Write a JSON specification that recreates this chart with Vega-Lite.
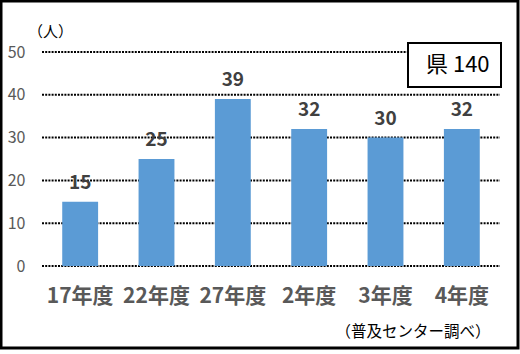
{
  "$schema": "https://vega.github.io/schema/vega-lite/v6.json",
  "width": 517,
  "height": 347,
  "autosize": {"type": "none"},
  "padding": {"left": 1, "top": 1, "right": 2, "bottom": 6},
  "background": "white",
  "config": {
    "view": {"stroke": "black", "strokeWidth": 3},
    "font": "Noto Sans CJK JP"
  },
  "datasets": {
    "bars": [
      {"year": "17年度", "value": 15, "pref": "県 140"},
      {"year": "22年度", "value": 25, "pref": "県 140"},
      {"year": "27年度", "value": 39, "pref": "県 140"},
      {"year": "2年度", "value": 32, "pref": "県 140"},
      {"year": "3年度", "value": 30, "pref": "県 140"},
      {"year": "4年度", "value": 32, "pref": "県 140"}
    ],
    "grid": [
      {"g": 0, "a": 0, "b": 1}, {"g": 10, "a": 0, "b": 1}, {"g": 20, "a": 0, "b": 1},
      {"g": 30, "a": 0, "b": 1}, {"g": 40, "a": 0, "b": 1}, {"g": 50, "a": 0, "b": 1}
    ]
  },
  "layer": [
    {
      "data": {"name": "grid"},
      "mark": {"type": "rule", "color": "black", "strokeWidth": 2, "strokeDash": [2, 1.2]},
      "encoding": {
        "y": {
          "field": "g", "type": "quantitative",
          "scale": {"domain": [0, 50], "range": [265, 51], "nice": false},
          "axis": {
            "title": "（人）", "titleAngle": 0, "titleX": 25, "titleY": 30,
            "titleAlign": "center", "titleBaseline": "middle", "titleFontSize": 15, "titleFontWeight": "normal", "titleColor": "black",
            "values": [0, 10, 20, 30, 40, 50],
            "labelFontSize": 16, "labelColor": "#595959", "labelPadding": 0,
            "ticks": false, "domain": false, "grid": false,
            "offset": -24
          }
        },
        "x": {"field": "a", "type": "quantitative", "scale": {"domain": [0, 1], "range": [41, 499]}, "axis": null},
        "x2": {"field": "b"}
      }
    },
    {
      "data": {"name": "bars"},
      "encoding": {
        "x": {
          "field": "year", "type": "nominal", "sort": null,
          "scale": {"range": [41, 499], "paddingInner": 0.53, "paddingOuter": 0.265},
          "axis": {
            "title": "（普及センター調べ）",
            "titleFontSize": 15.5, "titleFontWeight": "normal", "titleColor": "black",
            "titleX": 489, "titleY": 35, "titleAlign": "right", "titleBaseline": "middle",
            "labelFontSize": 21, "labelFontWeight": "bold", "labelColor": "#595959",
            "labelAngle": 0, "labelBaseline": "middle", "labelPadding": 0,
            "ticks": false, "domain": false, "grid": false,
            "offset": -51.5
          }
        },
        "y": {
          "field": "value", "type": "quantitative",
          "scale": {"domain": [0, 50], "range": [265, 51], "nice": false},
          "axis": {
            "title": "（人）", "titleAngle": 0, "titleX": 25, "titleY": 30,
            "titleAlign": "center", "titleBaseline": "middle", "titleFontSize": 15, "titleFontWeight": "normal", "titleColor": "black",
            "values": [0, 10, 20, 30, 40, 50],
            "labelFontSize": 16, "labelColor": "#595959", "labelPadding": 0,
            "ticks": false, "domain": false, "grid": false,
            "offset": -24
          }
        }
      },
      "layer": [
        {
          "mark": {"type": "bar"},
          "encoding": {
            "color": {
              "field": "pref", "type": "nominal",
              "scale": {"range": ["#5b9bd5"]},
              "legend": {
                "title": null, "orient": "none", "legendX": 407, "legendY": 42,
                "strokeColor": "black", "fillColor": "white",
                "padding": 11,
                "symbolSize": 0, "symbolOpacity": 0, "symbolStrokeWidth": 0,
                "labelOffset": -15, "labelFontSize": 22, "labelColor": "black",
                "labelExpr": "datum.label + '\u00a0\u00a0'",
                "encode": {"legend": {"update": {"strokeWidth": {"value": 2}}}}
              }
            }
          }
        },
        {
          "mark": {"type": "text", "baseline": "alphabetic", "dy": -13, "fontSize": 19, "fontWeight": "bold", "color": "#404040"},
          "encoding": {"text": {"field": "value", "type": "quantitative"}}
        }
      ]
    }
  ],
  "resolve": {"scale": {"x": "independent"}}
}
